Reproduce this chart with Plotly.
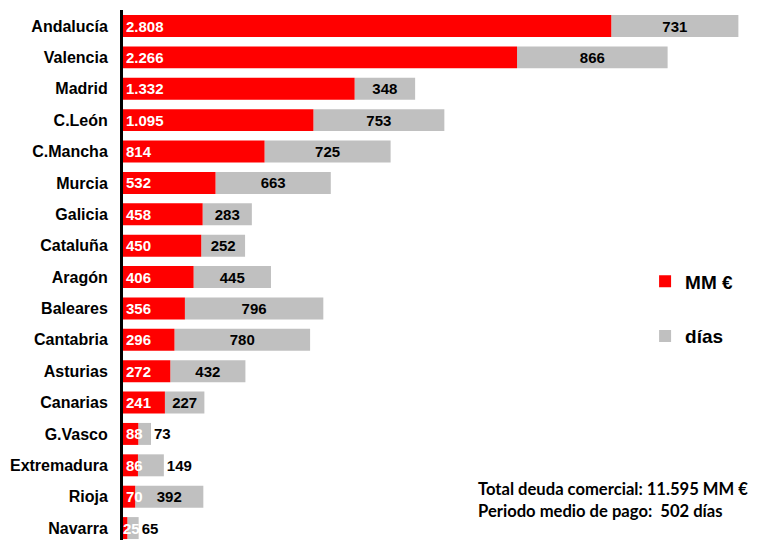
import plotly.graph_objects as go

regions = ["Andalucía", "Valencia", "Madrid", "C.León", "C.Mancha", "Murcia", "Galicia",
           "Cataluña", "Aragón", "Baleares", "Cantabria", "Asturias", "Canarias",
           "G.Vasco", "Extremadura", "Rioja", "Navarra"]
deuda_mm = [2808, 2266, 1332, 1095, 814, 532, 458, 450, 406, 356, 296, 272, 241, 88, 86, 70, 25]
dias = [731, 866, 348, 753, 725, 663, 283, 252, 445, 796, 780, 432, 227, 73, 149, 392, 65]

outside_set = {"G.Vasco", "Extremadura", "Navarra"}
dias_pos = ["outside" if r in outside_set else "inside" for r in regions]

FONT = "Liberation Sans, Arial, sans-serif"

fig = go.Figure()
# gray (días) bars stacked after the red bars, drawn first so red labels sit on top
fig.add_trace(go.Bar(
    y=regions, x=dias, base=deuda_mm, orientation="h", name="días",
    marker=dict(color="#C0C0C0", line=dict(width=0)),
    texttemplate="%{x:,.0f}", textposition=dias_pos, insidetextanchor="middle",
    constraintext="none", textangle=0, cliponaxis=False,
    insidetextfont=dict(color="black", size=15, family=FONT, weight="bold"),
    outsidetextfont=dict(color="black", size=15, family=FONT, weight="bold"),
    legendgroup="b", legendrank=2, hoverinfo="skip",
))
fig.add_trace(go.Bar(
    y=regions, x=deuda_mm, orientation="h", name="MM €",
    marker=dict(color="#FF0000", line=dict(width=0)),
    texttemplate="%{x:,.0f}", textposition="inside", insidetextanchor="start",
    constraintext="none", textangle=0, cliponaxis=False,
    insidetextfont=dict(color="white", size=15, family=FONT, weight="bold"),
    legendgroup="a", legendrank=1, hoverinfo="skip",
))

# the page body has an 8px default margin, so the figure is sized/offset to compensate
fig.update_layout(
    width=749, height=532,
    barmode="overlay", bargap=0.3,
    separators=",.",
    margin=dict(l=115, r=8, t=2, b=0, autoexpand=False),
    paper_bgcolor="white", plot_bgcolor="white",
    font=dict(family=FONT, color="black"),
    xaxis=dict(range=[0, 3600], visible=False, fixedrange=True, automargin=False),
    yaxis=dict(
        type="category", categoryorder="array", categoryarray=regions,
        range=[16.38, -0.51], autorange=False, automargin=False,
        showline=True, linewidth=3, linecolor="black",
        showgrid=False, zeroline=False, ticks="",
        ticklabelstandoff=9,
        tickfont=dict(size=16, family=FONT, weight="bold", color="black"),
    ),
    legend=dict(
        xref="paper", yref="paper", x=0.834, y=0.436, xanchor="left", yanchor="middle",
        traceorder="grouped", tracegroupgap=27,
        font=dict(size=19, family=FONT, weight="bold", color="black"),
        bgcolor="rgba(0,0,0,0)",
    ),
    showlegend=True,
    annotations=[dict(
        xref="paper", yref="paper", x=0.564, y=0.1185, xanchor="left", yanchor="top",
        align="left", showarrow=False,
        text="Total deuda comercial: 11.595 MM €<br>Periodo medio de pago:  502 días",
        font=dict(size=16.6, family="Lato, Open Sans, sans-serif", weight="bold", color="black"),
    )],
)

fig.write_html("out.html")
